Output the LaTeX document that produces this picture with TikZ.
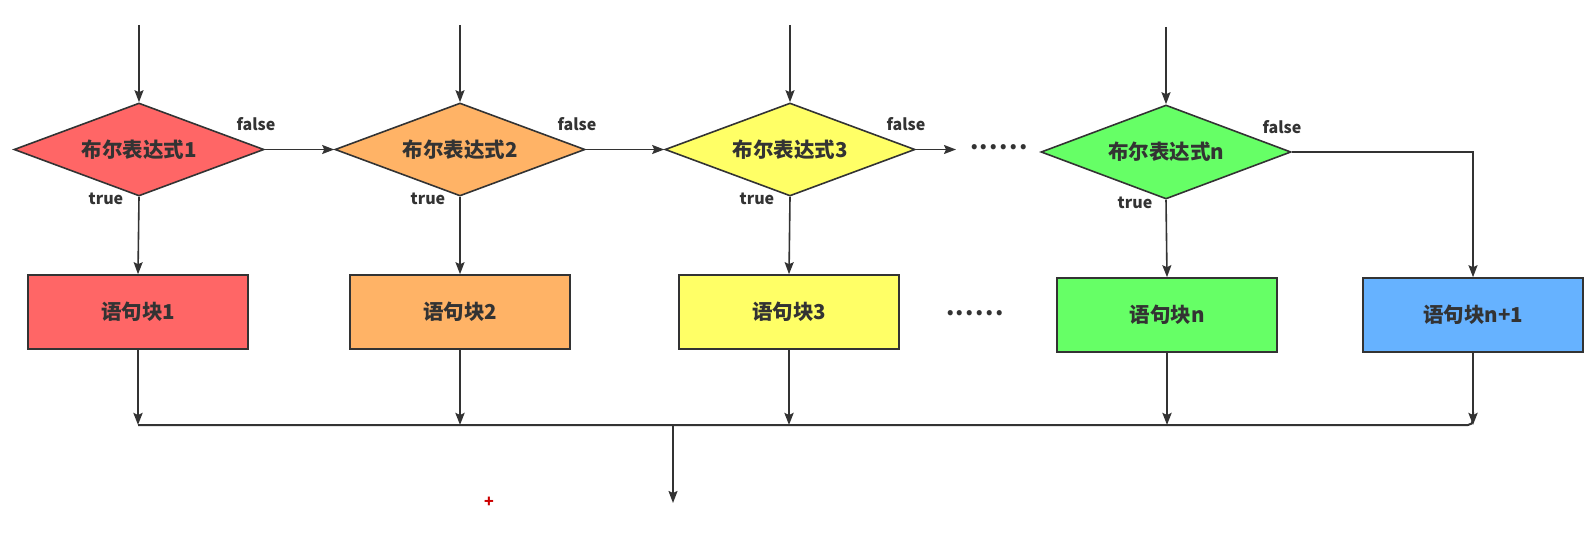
\documentclass[tikz,border=0pt]{standalone}
\usepackage{fontspec}
\setmainfont{Noto Sans CJK SC}
\usetikzlibrary{shapes.geometric,arrows.meta}
\definecolor{ln}{HTML}{333333}
\definecolor{cred}{HTML}{FF6666}
\definecolor{corange}{HTML}{FFB366}
\definecolor{cyellow}{HTML}{FFFF66}
\definecolor{cgreen}{HTML}{66FF66}
\definecolor{cblue}{HTML}{66B2FF}
\tikzset{
  cond/.style={diamond,aspect=2.69,draw=ln,line width=1.6pt,minimum width=250pt,minimum height=93pt,inner sep=0pt,text=ln,font=\fontsize{20.5}{22}\selectfont\bfseries},
  blk/.style={rectangle,draw=ln,line width=1.6pt,minimum width=220pt,minimum height=74pt,inner sep=0pt,text=ln,font=\fontsize{20.5}{22}\selectfont\bfseries},
  lbl/.style={text=ln,inner sep=0pt,font=\fontsize{16}{18}\selectfont\bfseries},
  dots/.style={text=ln,inner sep=0pt,font=\fontsize{24}{26}\selectfont\bfseries\addfontfeature{LetterSpace=6}},
  arr/.style={draw=ln,line width=1.6pt,-{Stealth[length=12pt,width=9pt,inset=2pt]}},
  tharr/.style={draw=ln,line width=2.8pt,-{Stealth[length=12pt,width=9pt,inset=2pt]}},
  ln/.style={draw=ln,line width=2pt}
}
\begin{document}
\begin{tikzpicture}[x=1pt,y=-1pt]
\useasboundingbox (0,0) rectangle (1594,535);
% diamonds
\node[cond,fill=cred] (d1) at (139,149.5) {布尔表达式1};
\node[cond,fill=corange] (d2) at (460,149.5) {布尔表达式2};
\node[cond,fill=cyellow] (d3) at (790,149.5) {布尔表达式3};
\node[cond,fill=cgreen,minimum height=94pt] (dn) at (1166,152) {布尔表达式n};
% blocks
\node[blk,fill=cred] (b1) at (138,312) {语句块1};
\node[blk,fill=corange] (b2) at (460,312) {语句块2};
\node[blk,fill=cyellow] (b3) at (789,312) {语句块3};
\node[blk,fill=cgreen] (bn) at (1167,315) {语句块n};
\node[blk,fill=cblue] (bn1) at (1473,315) {语句块n+1};
% top entries
\coordinate (t1) at (139,25);
\coordinate (t2) at (460,25);
\coordinate (t3) at (790,25);
\coordinate (tn) at (1166,27);
\draw[arr] (t1) -- (d1.north);
\draw[arr] (t2) -- (d2.north);
\draw[arr] (t3) -- (d3.north);
\draw[arr] (tn) -- (dn.north);
% false chain
\draw[arr] (d1.east) -- (d2.west);
\draw[arr] (d2.east) -- (d3.west);
\coordinate (f3) at (956,149.5);
\draw[arr] (d3.east) -- (f3);
\node[dots] (dots1) at (999,147) {......};
\node[dots] (dots2) at (975,313) {......};
\draw[arr] (dn.east) -| (bn1.north);
% true branches
\draw[arr] (d1.south) -- (b1.north);
\draw[arr] (d2.south) -- (b2.north);
\draw[arr] (d3.south) -- (b3.north);
\draw[arr] (dn.south) -- (bn.north);
% labels
\node[lbl] (fl1) at (256,124) {false};
\node[lbl] (fl2) at (577,124) {false};
\node[lbl] (fl3) at (906,124) {false};
\node[lbl] (fln) at (1282,127) {false};
\node[lbl] (tr1) at (106,199) {true};
\node[lbl] (tr2) at (428,199) {true};
\node[lbl] (tr3) at (757,199) {true};
\node[lbl] (trn) at (1135,203) {true};
% merge
\coordinate (m1) at (138,425);
\coordinate (m2) at (460,425);
\coordinate (m3) at (789,425);
\coordinate (mn) at (1167,425);
\coordinate (mn1) at (1473,425);
\coordinate (mc) at (673,425);
\coordinate (out) at (673,503);
\draw[ln,rounded corners=5pt] (m1) -- (mn1) -- (1473,412);
\draw[tharr] (b1.south) -- (m1);
\draw[tharr] (b2.south) -- (m2);
\draw[tharr] (b3.south) -- (m3);
\draw[tharr] (bn.south) -- (mn);
\draw[tharr] (bn1.south) -- (mn1);
\draw[arr] (mc) -- (out);
\node[text=red!80!black,inner sep=0pt,font=\fontsize{16}{16}\selectfont\bfseries] (plus) at (489,502) {+};
\end{tikzpicture}
\end{document}
